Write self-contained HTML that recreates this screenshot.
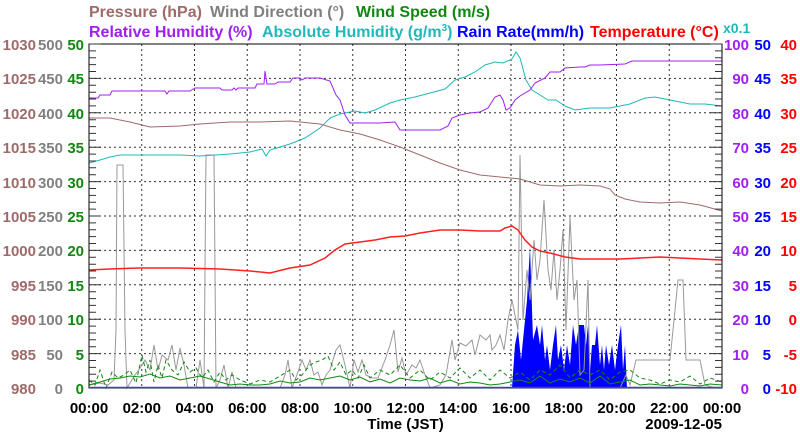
<!DOCTYPE html>
<html><head><meta charset="utf-8"><style>
body{margin:0;background:#fff;}
svg{display:block;font-family:"Liberation Sans",sans-serif;font-weight:bold;}
</style></head><body>
<svg width="800" height="434" viewBox="0 0 800 434" xmlns="http://www.w3.org/2000/svg">
<g font-size="16">
<text x="89" y="17" fill="#a06a6a">Pressure (hPa)</text>
<text x="210" y="17" fill="#808080">Wind Direction (°)</text>
<text x="356" y="17" fill="#108810">Wind Speed (m/s)</text>
<text x="89" y="37" fill="#a020f0">Relative Humidity (%)</text>
<text x="262" y="37" fill="#20b8b8">Absolute Humidity (g/m<tspan font-size="10" dy="-6">3</tspan><tspan dy="6">)</tspan></text>
<text x="457" y="37" fill="#0000ff">Rain Rate(mm/h)</text>
<text x="590" y="37" fill="#ff0000">Temperature (°C)</text>
<text x="723" y="33" fill="#20b8b8" font-size="14">x0.1</text>
</g>
<!-- grid -->
<g stroke="#333" stroke-width="1" stroke-dasharray="2,3">
<line x1="89" x2="722" y1="78.4" y2="78.4"/><line x1="89" x2="722" y1="112.8" y2="112.8"/>
<line x1="89" x2="722" y1="147.2" y2="147.2"/><line x1="89" x2="722" y1="181.6" y2="181.6"/>
<line x1="89" x2="722" y1="216" y2="216"/><line x1="89" x2="722" y1="250.4" y2="250.4"/>
<line x1="89" x2="722" y1="284.8" y2="284.8"/><line x1="89" x2="722" y1="319.2" y2="319.2"/>
<line x1="89" x2="722" y1="353.6" y2="353.6"/>
<line x1="141.75" x2="141.75" y1="44" y2="388"/><line x1="194.5" x2="194.5" y1="44" y2="388"/>
<line x1="247.25" x2="247.25" y1="44" y2="388"/><line x1="300" x2="300" y1="44" y2="388"/>
<line x1="352.75" x2="352.75" y1="44" y2="388"/><line x1="405.5" x2="405.5" y1="44" y2="388"/>
<line x1="458.25" x2="458.25" y1="44" y2="388"/><line x1="511" x2="511" y1="44" y2="388"/>
<line x1="563.75" x2="563.75" y1="44" y2="388"/><line x1="616.5" x2="616.5" y1="44" y2="388"/>
<line x1="669.25" x2="669.25" y1="44" y2="388"/>
</g>
<!-- rain -->
<polygon fill="#0000ff" points="512,388 515,345 518,330 521,360 524,330 527,300 530,247 533,340 537,325 540,345 542,325 545,360 547,345 550,370 553,345 556,325 558,360 561,345 564,370 567,345 570,365 573,325 576,345 579,325 584,325 586,345 588,325 590,370 592,345 595,345 597,325 600,365 602,345 604,370 606,345 609,365 612,345 615,370 618,345 621,325 623,370 625,345 627,388"/>
<!-- wind direction -->
<polyline fill="none" stroke="#999" stroke-width="1" points="89,385 100,383 108,385 114,380 116,330 117,165 123,165 125,330 127,388 135,375 140,368 145,360 150,370 154,345 158,370 162,355 168,360 172,345 176,370 180,348 184,365 188,388 196,388 200,360 204,388 206,155 214,155 216,388 220,380 224,365 228,388 232,372 236,388 246,388 260,388 270,388 280,388 285,375 288,360 292,388 298,372 302,360 306,370 310,360 314,375 318,372 322,385 326,375 330,370 336,350 340,345 345,365 350,388 354,360 358,372 362,360 366,375 372,378 378,378 385,360 390,345 394,330 398,372 402,358 406,375 412,365 416,368 420,360 424,372 430,388 440,385 446,375 452,340 455,360 460,343 466,346 472,340 475,355 480,335 486,340 490,335 492,350 496,345 500,335 504,350 508,320 512,300 515,315 518,330 520,155 523,320 527,270 530,300 534,240 537,280 540,260 544,200 548,270 551,290 554,250 557,300 560,270 563,230 566,330 570,217 574,300 577,280 580,375 584,370 588,280 590,388 600,388 610,388 620,388 626,375 630,385 636,360 640,360 660,360 670,360 675,310 678,280 683,280 686,360 700,360 705,385 715,388 722,388"/>
<!-- wind speed solid & dashed -->
<polyline fill="none" stroke="#108810" stroke-width="1" points="89,385 100,382 110,379 120,378 130,376 140,377 150,374 160,378 170,376 180,380 190,378 200,376 210,379 220,382 230,385 240,384 250,385 260,385 270,384 280,381 290,383 300,382 310,378 320,380 330,378 340,376 350,380 360,377 370,382 380,379 390,383 400,378 410,380 420,381 430,378 440,383 450,380 460,384 470,382 480,383 490,385 500,384 510,382 520,380 530,383 540,376 550,383 560,379 570,382 580,378 590,383 600,376 610,384 620,382 630,380 640,385 650,384 660,385 670,386 680,384 690,385 700,386 710,384 722,385"/>
<polyline fill="none" stroke="#108810" stroke-width="1" stroke-dasharray="4,3" points="89,380 95,385 100,370 106,388 112,372 118,378 124,375 130,370 136,383 142,355 146,372 150,360 154,382 158,365 162,378 166,360 172,370 178,375 184,362 190,372 196,368 202,378 208,370 214,382 220,372 226,380 232,375 240,380 250,384 260,380 270,382 280,376 290,370 296,380 302,375 310,365 316,362 322,360 328,356 334,370 340,362 346,375 352,370 358,378 364,365 370,378 380,370 390,375 400,365 410,378 420,370 430,380 440,372 450,378 460,368 470,378 480,370 490,380 500,370 510,378 520,372 530,380 540,370 550,375 560,365 570,378 580,370 590,375 600,370 610,380 620,372 630,370 640,378 650,380 660,384 670,380 680,382 690,376 700,384 710,378 722,382"/>
<!-- pressure -->
<polyline fill="none" stroke="#a06a6a" stroke-width="1" points="89,118 110,118 130,122 150,127 180,126 200,124 230,122 260,122 290,121 320,124 340,130 360,134 380,140 400,147 420,155 440,163 460,170 480,175 500,177 520,179 540,185 560,186 580,185 600,186 610,189 615,195 625,199 640,202 660,203 680,202 700,205 722,211"/>
<!-- abs humidity -->
<polyline fill="none" stroke="#20b8b8" stroke-width="1" points="89,163 100,160 110,157 120,155 150,155 180,155 200,156 230,154 250,152 262,149 266,156 270,150 290,144 305,138 320,128 330,118 340,114 355,111 365,113 375,110 390,103 400,100 415,97 430,93 445,89 455,80 465,77 475,72 485,65 495,62 503,63 512,59 516,52 520,58 526,80 532,90 540,95 548,100 556,100 565,106 575,110 590,108 610,108 630,104 645,98 655,97 670,100 690,104 705,104 722,106"/>
<!-- relative humidity -->
<polyline fill="none" stroke="#a020f0" stroke-width="1" points="89,98 98,98 100,95 110,95 112,91 165,91 167,94 169,91 190,91 195,88 220,88 222,90 232,90 234,88 236,90 238,88 255,88 257,84 264,84 265,71 267,84 275,84 278,82 290,82 293,78 300,78 302,80 305,78 320,78 330,81 336,95 340,100 345,115 350,123 360,123 380,123 395,122 400,130 420,130 440,130 448,126 452,118 460,115 470,113 480,112 488,108 495,97 500,95 503,100 506,110 510,108 515,100 520,96 530,90 535,83 545,78 550,72 560,72 565,68 580,67 585,67 590,65 600,65 625,64 632,61 722,61"/>
<!-- temperature -->
<polyline fill="none" stroke="#ff2020" stroke-width="1.5" points="89,270 110,269 140,268 180,268 220,269 250,271 270,273 290,268 310,265 325,258 335,250 345,244 360,242 375,240 390,237 405,236 420,233 440,230 460,230 480,231 500,231 505,228 512,226 518,230 525,240 532,247 540,251 550,253 565,257 580,259 600,259 620,259 640,258 660,257 680,258 700,259 722,260"/>
<!-- axes -->
<rect x="89" y="44" width="633" height="344" fill="none" stroke="#000" stroke-width="1"/>
<g stroke="#333">
<path d="M89,44h12M89,78.4h12M89,112.8h12M89,147.2h12M89,181.6h12M89,216h12M89,250.4h12M89,284.8h12M89,319.2h12M89,353.6h12M722,44h-12M722,78.4h-12M722,112.8h-12M722,147.2h-12M722,181.6h-12M722,216h-12M722,250.4h-12M722,284.8h-12M722,319.2h-12M722,353.6h-12"/>
<path d="M89,50.9h7M89,57.8h7M89,64.6h7M89,71.5h7M89,85.3h7M89,92.2h7M89,99h7M89,105.9h7M89,119.7h7M89,126.6h7M89,133.4h7M89,140.3h7M89,154.1h7M89,161h7M89,167.8h7M89,174.7h7M89,188.5h7M89,195.4h7M89,202.2h7M89,209.1h7M89,222.9h7M89,229.8h7M89,236.6h7M89,243.5h7M89,257.3h7M89,264.2h7M89,271h7M89,277.9h7M89,291.7h7M89,298.6h7M89,305.4h7M89,312.3h7M89,326.1h7M89,333h7M89,339.8h7M89,346.7h7M89,360.5h7M89,367.4h7M89,374.2h7M89,381.1h7"/>
<path d="M722,50.9h-7M722,57.8h-7M722,64.6h-7M722,71.5h-7M722,85.3h-7M722,92.2h-7M722,99h-7M722,105.9h-7M722,119.7h-7M722,126.6h-7M722,133.4h-7M722,140.3h-7M722,154.1h-7M722,161h-7M722,167.8h-7M722,174.7h-7M722,188.5h-7M722,195.4h-7M722,202.2h-7M722,209.1h-7M722,222.9h-7M722,229.8h-7M722,236.6h-7M722,243.5h-7M722,257.3h-7M722,264.2h-7M722,271h-7M722,277.9h-7M722,291.7h-7M722,298.6h-7M722,305.4h-7M722,312.3h-7M722,326.1h-7M722,333h-7M722,339.8h-7M722,346.7h-7M722,360.5h-7M722,367.4h-7M722,374.2h-7M722,381.1h-7"/>
</g>
<line x1="89" x2="722" y1="387.5" y2="387.5" stroke="#4040c0" stroke-width="1.5"/>
<!-- left labels -->
<g font-size="15" text-anchor="end">
<g fill="#a06a6a">
<text x="36" y="50">1030</text><text x="36" y="84">1025</text><text x="36" y="119">1020</text><text x="36" y="153">1015</text><text x="36" y="188">1010</text><text x="36" y="222">1005</text><text x="36" y="256">1000</text><text x="36" y="291">995</text><text x="36" y="325">990</text><text x="36" y="360">985</text><text x="36" y="394">980</text>
</g>
<g fill="#808080">
<text x="63" y="50">500</text><text x="63" y="84">450</text><text x="63" y="119">400</text><text x="63" y="153">350</text><text x="63" y="188">300</text><text x="63" y="222">250</text><text x="63" y="256">200</text><text x="63" y="291">150</text><text x="63" y="325">100</text><text x="63" y="360">50</text><text x="63" y="394">0</text>
</g>
<g fill="#108810">
<text x="84" y="50">50</text><text x="84" y="84">45</text><text x="84" y="119">40</text><text x="84" y="153">35</text><text x="84" y="188">30</text><text x="84" y="222">25</text><text x="84" y="256">20</text><text x="84" y="291">15</text><text x="84" y="325">10</text><text x="84" y="360">5</text><text x="84" y="394">0</text>
</g>
</g>
<!-- right labels -->
<g font-size="15" text-anchor="end">
<g fill="#a020f0">
<text x="749" y="50">100</text><text x="749" y="84">90</text><text x="749" y="119">80</text><text x="749" y="153">70</text><text x="749" y="188">60</text><text x="749" y="222">50</text><text x="749" y="256">40</text><text x="749" y="291">30</text><text x="749" y="325">20</text><text x="749" y="360">10</text><text x="749" y="394">0</text>
</g>
<g fill="#0000ff">
<text x="771" y="50">50</text><text x="771" y="84">45</text><text x="771" y="119">40</text><text x="771" y="153">35</text><text x="771" y="188">30</text><text x="771" y="222">25</text><text x="771" y="256">20</text><text x="771" y="291">15</text><text x="771" y="325">10</text><text x="771" y="360">5</text><text x="771" y="394">0</text>
</g>
<g fill="#ff0000">
<text x="797" y="50">40</text><text x="797" y="84">35</text><text x="797" y="119">30</text><text x="797" y="153">25</text><text x="797" y="188">20</text><text x="797" y="222">15</text><text x="797" y="256">10</text><text x="797" y="291">5</text><text x="797" y="325">0</text><text x="797" y="360">-5</text><text x="797" y="394">-10</text>
</g>
</g>
<!-- x labels -->
<g font-size="15" text-anchor="middle" fill="#000">
<text x="89" y="413">00:00</text><text x="141.75" y="413">02:00</text><text x="194.5" y="413">04:00</text><text x="247.25" y="413">06:00</text><text x="300" y="413">08:00</text><text x="352.75" y="413">10:00</text><text x="405.5" y="413">12:00</text><text x="458.25" y="413">14:00</text><text x="511" y="413">16:00</text><text x="563.75" y="413">18:00</text><text x="616.5" y="413">20:00</text><text x="669.25" y="413">22:00</text><text x="722" y="413">00:00</text>
<text x="405.5" y="429">Time (JST)</text>
<text x="722" y="429" text-anchor="end">2009-12-05</text>
</g>
</svg>
</body></html>
